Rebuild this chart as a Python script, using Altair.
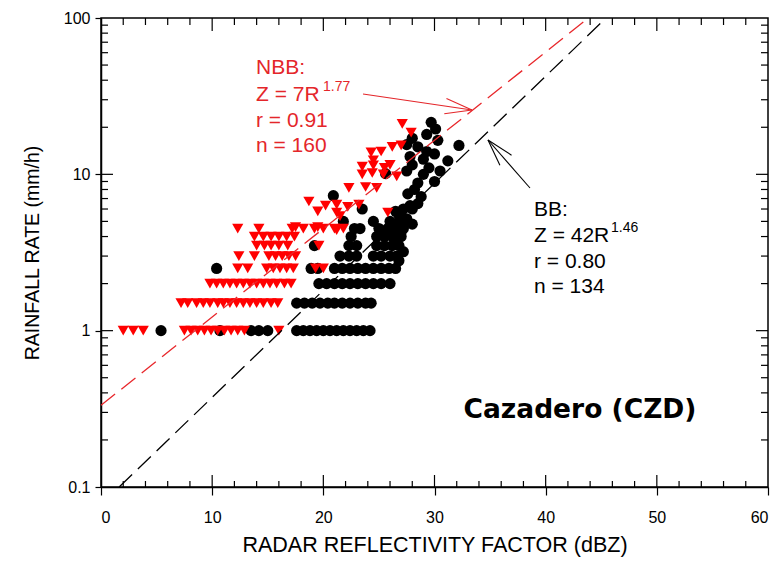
import math
import altair as alt
import pandas as pd

W, H = 667, 469
FONT = "Liberation Sans"
RED = "#FF0000"
TXT_RED = "#E4262A"

# ---------------- data ----------------
# NBB (red triangles): quantised rain-rate rows and their reflectivities
NBB_ROW_RATES = [1.0, 1.5, 2.0, 2.5, 3.0, 3.5, 4.0, 4.5]
NBB_ROW_DBZ = [
    [2.0, 2.9, 3.8, 7.5, 8.1, 8.7, 9.3, 9.9, 10.5, 11.1, 11.7, 12.3, 12.9, 16.0],
    [7.2, 7.8, 8.6, 9.2, 9.8, 10.5, 11.0, 11.6, 12.2, 12.8, 13.4, 14.0, 14.6, 15.3, 15.9],
    [9.8, 10.4, 11.0, 11.6, 12.2, 12.8, 13.4, 14.0, 14.6, 15.2, 15.8, 16.5, 17.1],
    [12.3, 13.2, 14.9, 15.5, 16.1, 16.7, 17.3, 19.3, 20.0],
    [12.4, 13.8, 15.1, 15.7, 16.3, 16.9, 17.5],
    [14.0, 14.7, 15.3, 16.0, 16.8, 19.6],
    [13.8, 14.6, 15.3, 16.0, 16.7, 17.4],
    [12.3, 14.2, 17.2, 18.2, 19.2, 20.0, 21.0, 21.8],
]
NBB_UPPER_DBZ = [27.1, 27.9, 26.2, 27.0, 24.3, 25.2, 23.5, 24.5, 25.5, 26.0, 24.5,
                 23.5, 24.4, 25.4, 26.6, 23.8, 24.8, 22.3, 18.7, 20.2, 21.2, 22.2,
                 23.2, 19.5, 21.2, 21.5, 25.8, 17.5, 19.5, 21.2]
NBB_UPPER_RATE = [21.0, 18.5, 15.0, 15.3, 13.8, 14.0, 11.2, 11.4, 11.0, 11.5, 12.3,
                  10.0, 10.2, 10.0, 9.7, 8.3, 8.2, 8.2, 6.7, 6.3, 6.4, 6.2,
                  6.4, 5.8, 5.7, 5.4, 5.7, 4.6, 4.6, 4.4]

# BB (black circles)
BB_ROW_RATES = [1.0, 1.5, 2.0, 2.5, 3.0, 3.5, 4.0, 4.5, 5.0]
BB_ROW_DBZ = [
    [5.4, 10.7, 13.5, 14.2, 15.0, 17.6, 18.2, 18.8, 19.4, 20.0, 20.6, 21.2, 21.8, 22.4, 23.0, 23.6, 24.2],
    [17.6, 18.3, 19.0, 19.7, 20.4, 21.0, 21.7, 22.4, 23.1, 23.8, 24.3],
    [19.6, 20.3, 21.0, 21.7, 22.4, 23.1, 23.8, 24.5, 25.2, 26.0],
    [10.4, 18.9, 19.5, 21.0, 21.7, 22.4, 23.1, 23.8, 24.5, 25.2, 25.9, 26.5],
    [21.5, 22.3, 23.0, 24.5, 25.2, 26.0, 26.6],
    [19.2, 22.3, 23.0, 24.8, 25.5, 26.2, 26.8],
    [22.5, 24.8, 25.5, 26.2, 27.0],
    [22.8, 23.3, 25.0, 25.8, 26.5, 27.2],
    [21.8, 24.5, 26.0, 26.8, 27.5],
]
BB_UPPER_DBZ = [23.5, 26.5, 27.2, 27.8, 20.9, 25.6, 29.7, 30.1, 29.3, 30.3, 28.0,
                27.5, 28.5, 29.3, 30.0, 29.0, 27.8, 32.2, 31.2, 28.0, 29.5, 30.5,
                27.5, 29.0, 30.0, 28.5, 28.2, 28.8, 27.6, 28.5, 28.0, 26.8, 27.5,
                28.0, 27.0, 26.5, 27.2, 26.8]
BB_UPPER_RATE = [6.0, 5.8, 6.0, 6.3, 7.3, 10.1, 21.5, 19.5, 18.0, 16.5, 17.0,
                 15.5, 15.0, 14.0, 13.5, 12.5, 13.0, 15.3, 12.2, 11.5, 11.0, 10.5,
                 10.5, 10.0, 9.0, 8.8, 8.0, 7.2, 7.5, 6.5, 6.0, 5.5, 5.2,
                 4.8, 4.3, 3.8, 3.2, 2.8]

# Z = a R^b fits shown on the chart
FITS = {"NBB": (7.0, 1.77), "BB": (42.0, 1.46)}

X_MAJOR = [0, 10, 20, 30, 40, 50, 60]
X_MINOR = [v for v in range(2, 60, 2) if v % 10 != 0]
Y_MAJOR = [0.1, 1, 10, 100]
Y_MINOR = [m * d for d in (0.1, 1, 10) for m in range(2, 10)]


def rows_to_df(row_rates, row_dbz, up_dbz, up_rate):
    recs = []
    for r, lst in zip(row_rates, row_dbz):
        recs += [{"dbz": d, "rate": r} for d in lst]
    recs += [{"dbz": d, "rate": r} for d, r in zip(up_dbz, up_rate)]
    return pd.DataFrame(recs)


nbb_df = rows_to_df(NBB_ROW_RATES, NBB_ROW_DBZ, NBB_UPPER_DBZ, NBB_UPPER_RATE)
bb_df = rows_to_df(BB_ROW_RATES, BB_ROW_DBZ, BB_UPPER_DBZ, BB_UPPER_RATE)


def fit_df(a, b):
    c = 10 * math.log10(a)
    r_lo = max(0.1, 10 ** ((0 - c) / (10 * b)))
    return pd.DataFrame([{"dbz": c + 10 * b * math.log10(r), "rate": r} for r in (r_lo, 100.0)])


# ---------------- scales & axes ----------------
xs = alt.Scale(domain=[0, 60], nice=False, zero=False)
ys = alt.Scale(type="log", domain=[0.1, 100], nice=False)

X_TITLE = "RADAR REFLECTIVITY FACTOR (dBZ)"
Y_TITLE = "RAINFALL RATE (mm/h)"


def xenc(field="dbz"):
    return alt.X(f"{field}:Q", scale=xs, title=X_TITLE,
                 axis=alt.Axis(values=X_MAJOR, tickSize=8, labelPadding=14, titlePadding=9,
                               titleFontSize=21.5))


def yenc(field="rate"):
    return alt.Y(f"{field}:Q", scale=ys, title=Y_TITLE,
                 axis=alt.Axis(values=Y_MAJOR, format="~g", tickSize=6, labelPadding=5,
                               titlePadding=21, titleFontSize=19.5))


bb_pts = alt.Chart(bb_df).mark_point(shape="circle", filled=True, size=125, color="black",
                                     opacity=1).encode(x=xenc(), y=yenc())
nbb_pts = alt.Chart(nbb_df).mark_point(shape="triangle-down", filled=True, size=125,
                                       color=RED, opacity=1).encode(x=xenc(), y=yenc())


def fit_line(name, color):
    a, b = FITS[name]
    return alt.Chart(fit_df(a, b)).mark_line(color=color, strokeWidth=1.3,
                                             strokeDash=[18, 8]).encode(x=xenc(), y=yenc())


def xticks(vals, length, top):
    y1, y2 = (0, length) if top else (H, H - length)
    return alt.Chart(pd.DataFrame({"dbz": vals})).mark_rule(color="black", strokeWidth=1.2).encode(
        x=xenc(), y=alt.value(y1), y2=alt.value(y2))


def yticks(vals, length, right):
    x1, x2 = (W, W - length) if right else (0, length)
    return alt.Chart(pd.DataFrame({"rate": vals})).mark_rule(color="black", strokeWidth=1.2).encode(
        y=yenc(), x=alt.value(x1), x2=alt.value(x2))


def text(s, x, y, color="black", size=21, weight="normal", align="left", font=FONT):
    return alt.Chart(pd.DataFrame({"t": [s]})).mark_text(
        font=font, fontSize=size, fontWeight=weight, color=color, align=align,
        baseline="middle").encode(text="t:N", x=alt.value(x), y=alt.value(y))


def arrow(x0, y0, x1, y1, color, arm=28, ang=16):
    dx, dy = x1 - x0, y1 - y0
    L = math.hypot(dx, dy)
    ux, uy = -dx / L, -dy / L
    parts = [alt.Chart(pd.DataFrame({"k": [0]})).mark_rule(color=color, strokeWidth=1.1).encode(
        x=alt.value(x0), y=alt.value(y0), x2=alt.value(x1), y2=alt.value(y1))]
    for s in (1, -1):
        t = math.radians(ang * s)
        ax = ux * math.cos(t) - uy * math.sin(t)
        ay = ux * math.sin(t) + uy * math.cos(t)
        parts.append(alt.Chart(pd.DataFrame({"k": [0]})).mark_rule(color=color, strokeWidth=1.1).encode(
            x=alt.value(x1), y=alt.value(y1), x2=alt.value(x1 + arm * ax), y2=alt.value(y1 + arm * ay)))
    return parts


layers = [
    bb_pts, nbb_pts,
    fit_line("NBB", "#E8272B"), fit_line("BB", "black"),
    xticks(X_MINOR, 6, False), xticks(X_MAJOR[1:-1], 12, False),
    xticks(X_MINOR, 7, True), xticks(X_MAJOR[1:-1], 13, True),
    yticks(Y_MINOR, 7, False), yticks(Y_MAJOR[1:-1], 12, False),
    yticks(Y_MINOR, 7, True), yticks(Y_MAJOR[1:-1], 12, True),
    # NBB annotation
    text("NBB:", 155, 50, TXT_RED), text("Z = 7R", 155, 77, TXT_RED),
    text("1.77", 222, 69, TXT_RED, size=14), text("r = 0.91", 155, 103, TXT_RED),
    text("n = 160", 155, 128, TXT_RED),
    # BB annotation
    text("BB:", 433, 192), text("Z = 42R", 433, 218), text("1.46", 510, 210, size=14),
    text("r = 0.80", 433, 244), text("n = 134", 433, 269),
    text("Cazadero (CZD)", 479, 392, size=26.5, weight="bold", align="center", font="DejaVu Sans"),
]
layers += arrow(262, 76, 371, 92, TXT_RED)
layers += arrow(429, 170, 387, 122, "black")

chart = alt.layer(*layers).properties(
    width=W, height=H,
    padding={"left": 101, "top": 18, "right": 11, "bottom": 81},
    autosize=alt.AutoSizeParams(type="none"),
    background="white",
).configure_axis(
    grid=False, domainColor="black", domainWidth=1.5, tickColor="black", tickWidth=1.2,
    labelFont=FONT, labelFontSize=16, labelColor="black",
    titleFont=FONT, titleFontWeight="normal", titleColor="black",
).configure_view(stroke="black", strokeWidth=1.5)

chart.save("out.html", embed_options={"renderer": "svg", "actions": False})
